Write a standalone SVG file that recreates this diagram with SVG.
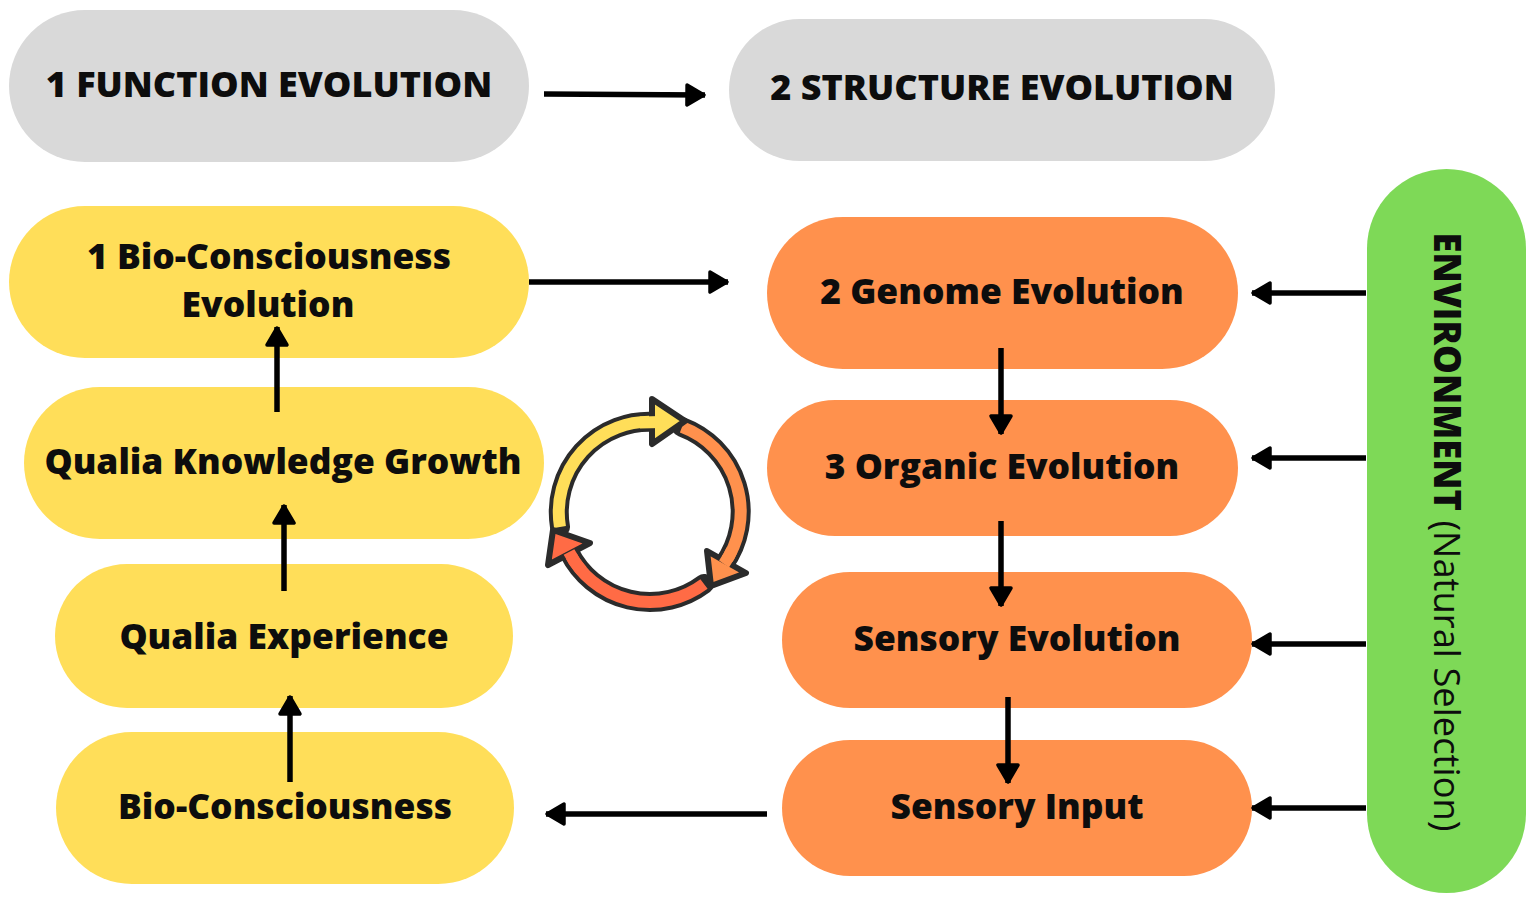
<svg xmlns="http://www.w3.org/2000/svg" width="1535" height="903" viewBox="0 0 1535 903">
<style>
.g{fill:#d9d9d9}.y{fill:#ffde59}.o{fill:#ff914d}.e{fill:#7ed957}
text{font-family:"Open Sans","Liberation Sans",sans-serif;font-weight:800;fill:#0d0d0d;text-anchor:middle}
.t{font-size:36px}
.s{font-size:35.4px}
.c{fill:none;stroke:#000;stroke-width:5.5}
.b{fill:none;stroke:#2b2b2b;stroke-width:20;stroke-linecap:round}
.a{fill:none;stroke-width:12}
.p{stroke:#2b2b2b;stroke-width:6;stroke-linejoin:round}
</style>
<defs><marker id="m" markerUnits="userSpaceOnUse" markerWidth="26" markerHeight="30" refX="22" refY="14" orient="auto"><path d="M4 4L21 14L4 24Z" fill="#000" stroke="#000" stroke-width="3.5" stroke-linejoin="round"/></marker></defs>
<rect width="1535" height="903" fill="#fff"/>
<g id="n1"><rect class="g" x="9" y="10" width="520" height="152" rx="76"/><text class="t" x="269" y="97">1 FUNCTION EVOLUTION</text></g>
<g id="n2"><rect class="g" x="729" y="19" width="546" height="142" rx="71"/><text class="t" x="1002" y="100">2 STRUCTURE EVOLUTION</text></g>
<g id="n3"><rect class="y" x="9" y="206" width="520" height="152" rx="76"/><text class="s" x="269" y="269">1 Bio-Consciousness</text><text class="s" x="268" y="317">Evolution</text></g>
<g id="n4"><rect class="y" x="24" y="387" width="520" height="152" rx="76"/><text class="s" x="283" y="474">Qualia Knowledge Growth</text></g>
<g id="n5"><rect class="y" x="55" y="564" width="458" height="144" rx="72"/><text class="s" x="284" y="649">Qualia Experience</text></g>
<g id="n6"><rect class="y" x="56" y="732" width="458" height="152" rx="76"/><text class="s" x="285" y="819">Bio-Consciousness</text></g>
<g id="n7"><rect class="o" x="767" y="217" width="471" height="152" rx="76"/><text class="s" x="1002" y="304">2 Genome Evolution</text></g>
<g id="n8"><rect class="o" x="767" y="400" width="471" height="136" rx="68"/><text class="s" x="1002" y="479">3 Organic Evolution</text></g>
<g id="n9"><rect class="o" x="782" y="572" width="470" height="136" rx="68"/><text class="s" x="1017" y="651">Sensory Evolution</text></g>
<g id="n10"><rect class="o" x="782" y="740" width="470" height="136" rx="68"/><text class="s" x="1017" y="819">Sensory Input</text></g>
<g id="n11"><rect class="e" x="1367" y="169" width="159" height="724" rx="79.5"/><text class="t" style="font-size:36.3px" transform="translate(1434 532) rotate(90)">ENVIRONMENT <tspan style="font-weight:400">(Natural Selection)</tspan></text></g>
<g id="connectors">
<path class="c" marker-end="url(#m)" d="M544 94L705 95"/>
<path class="c" marker-end="url(#m)" d="M529 282L728 282"/>
<path class="c" marker-end="url(#m)" d="M277 412V327"/>
<path class="c" marker-end="url(#m)" d="M284 591V505"/>
<path class="c" marker-end="url(#m)" d="M290 782V696"/>
<path class="c" marker-end="url(#m)" d="M767 814H546"/>
<path class="c" marker-end="url(#m)" d="M1001 348V434"/>
<path class="c" marker-end="url(#m)" d="M1001 521V606"/>
<path class="c" marker-end="url(#m)" d="M1008 697V783"/>
<path class="c" marker-end="url(#m)" d="M1366 293H1252"/>
<path class="c" marker-end="url(#m)" d="M1366 458H1252"/>
<path class="c" marker-end="url(#m)" d="M1366 644H1252"/>
<path class="c" marker-end="url(#m)" d="M1366 808H1252"/>
</g>
<g id="cycle">
<path class="b" d="M682 427A90.4 90.4 0 0 1 724 564"/>
<path class="a" stroke="#ff914d" d="M682 427A90.4 90.4 0 0 1 724 564"/>
<path class="b" d="M704 584A90.4 90.4 0 0 1 569 552"/>
<path class="a" stroke="#ff6b45" d="M704 584A90.4 90.4 0 0 1 569 552"/>
<path class="b" d="M560 527A90.4 90.4 0 0 1 655 422"/>
<path class="a" stroke="#ffde59" d="M560 527A90.4 90.4 0 0 1 655 422"/>
<path class="p" fill="#ffde59" d="M652 399L685 421L652 444Z"/>
<path class="a" stroke="#ffde59" d="M640 422.5L662 422"/>
<path class="p" fill="#ff6b45" d="M553 530L590 543L548 565Z"/>
<path class="a" stroke="#ff6b45" d="M582 571A90.4 90.4 0 0 1 569 552"/>
<path class="p" fill="#ff914d" d="M707 551L746 573L711 586Z"/>
<path class="a" stroke="#ff914d" d="M732 550A90.4 90.4 0 0 1 724 564"/>
</g>
</svg>
